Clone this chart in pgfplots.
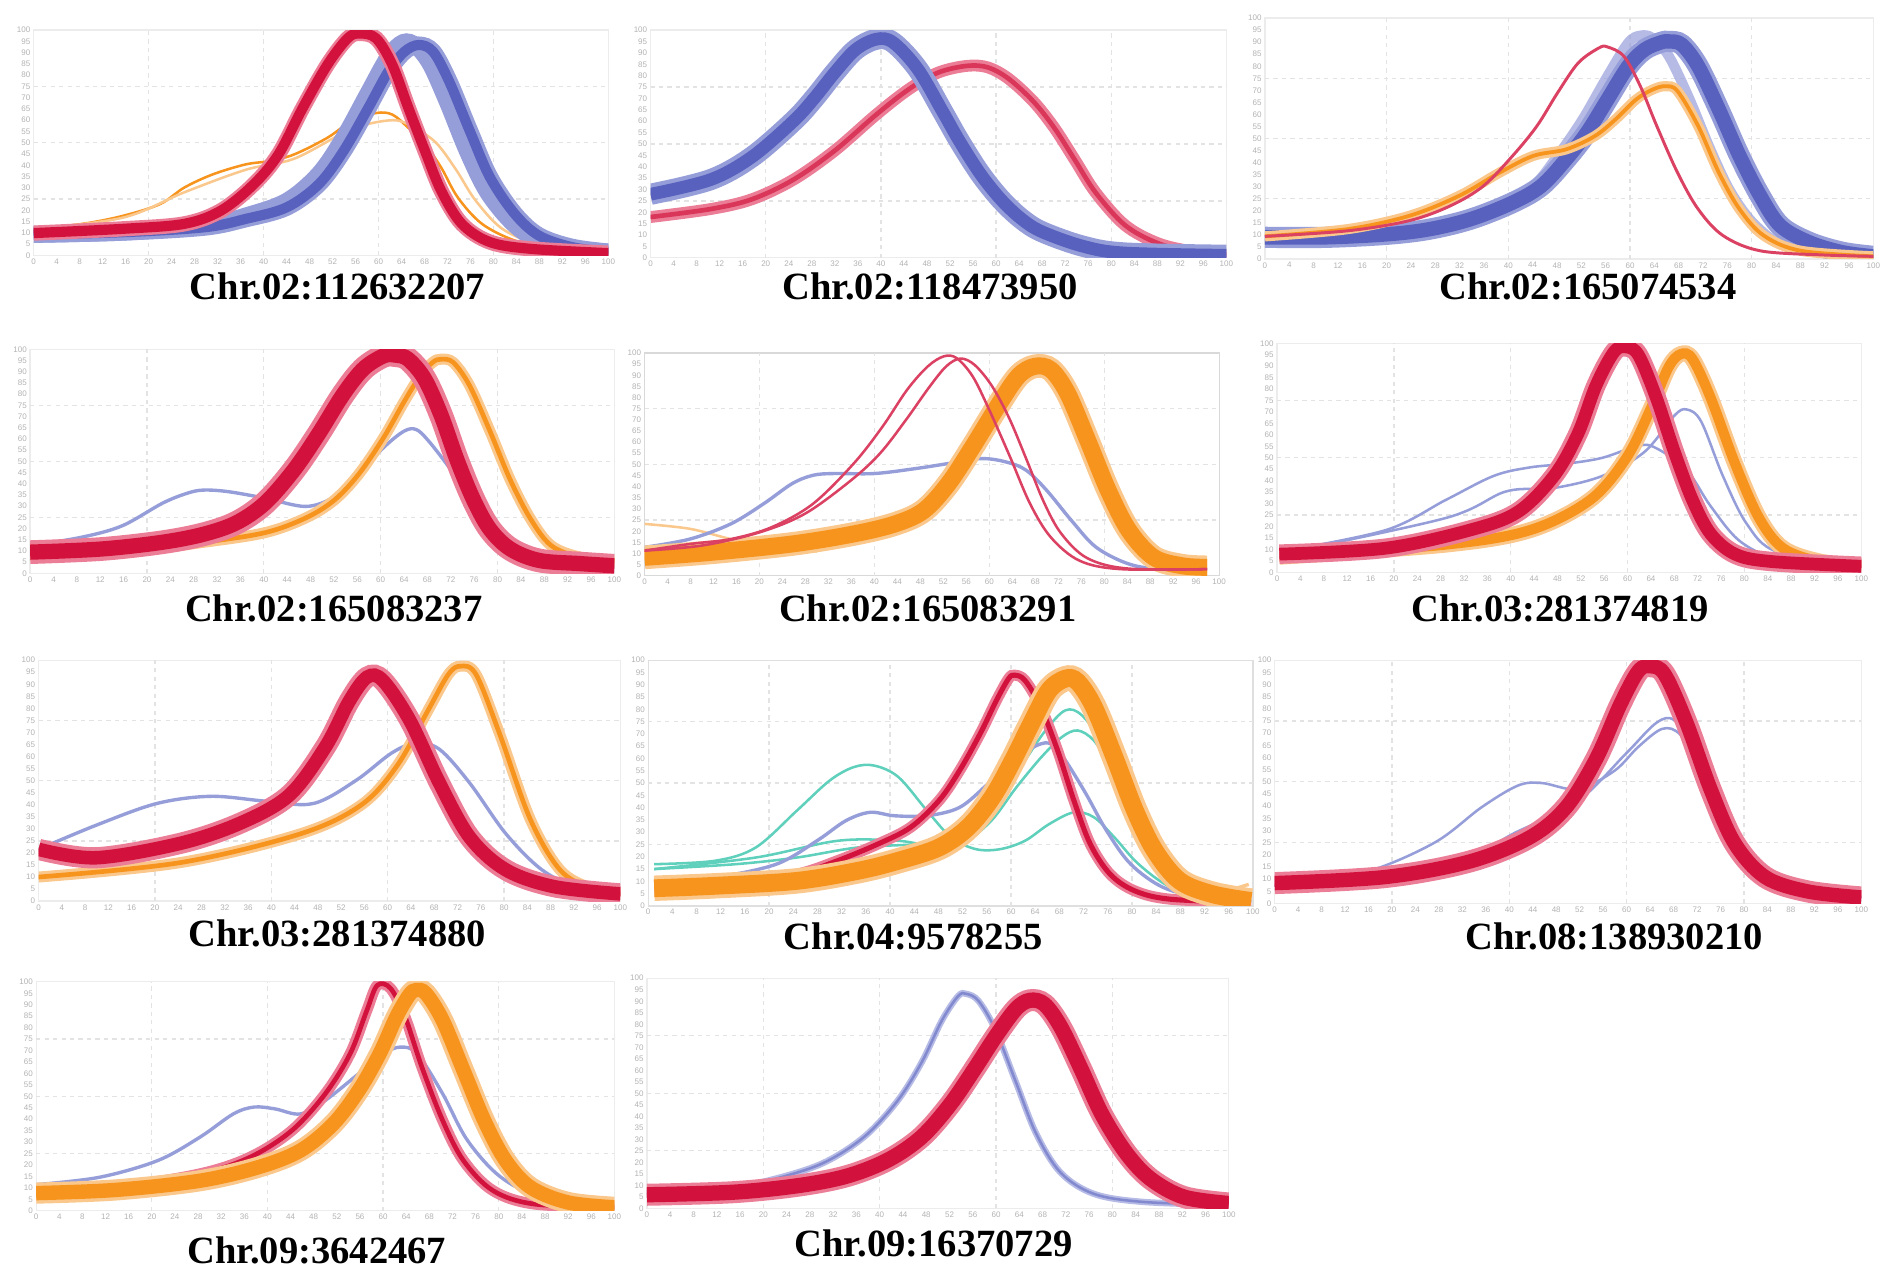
\documentclass[border=0pt]{standalone}
\usepackage{pgfplots}
\pgfplotsset{compat=1.18}
\usepackage{fontspec}
\setmainfont{Liberation Serif}
\newfontfamily\tickfont{Liberation Sans}
\definecolor{cb}{RGB}{88,98,190}
\definecolor{cbl}{RGB}{150,158,218}
\definecolor{cr}{RGB}{210,18,60}
\definecolor{crl}{RGB}{236,125,150}
\definecolor{co}{RGB}{247,148,30}
\definecolor{col}{RGB}{250,200,140}
\definecolor{ct}{RGB}{95,208,188}
\tikzset{ttl/.style={font=\fontsize{9.1}{11}\selectfont\bfseries, inner sep=0pt}}
\pgfplotsset{
 mc/.style={scale only axis, xmin=0, xmax=100, ymin=0, ymax=100,
  axis line style={draw=gray!15, line width=0.3pt},
  xtick distance=4, ytick distance=5, major tick length=0pt,
  /pgf/number format/assume math mode=true,
  tick label style={font=\tickfont\fontsize{1.9}{2.1}\selectfont, text=gray!60, inner sep=0.6pt},
  extra x ticks={20,40,60,80}, extra y ticks={25,50,75},
  extra x tick labels={}, extra y tick labels={},
  extra tick style={grid=major, grid style={gray!22, dash pattern=on 1pt off 1pt, line width=0.3pt}},
  every axis plot/.append style={smooth, tension=0.55, mark=none}},
 bB/.style={cb, line width=2.4pt, preaction={draw=cbl, line width=4pt}},
 bR/.style={cr, line width=2.4pt, preaction={draw=crl, line width=3.6pt}},
 bO/.style={co, line width=2.4pt, preaction={draw=col, line width=3.8pt}},
 lB/.style={cbl, line width=0.6pt},
 lR/.style={cr!80, line width=0.6pt},
 lO/.style={co, line width=0.6pt},
 lT/.style={ct, line width=0.6pt}
}
\begin{document}
\begin{tikzpicture}
\useasboundingbox (0,0) rectangle (15.68,10.60);
% ---------- Panel 1 ----------
\begin{axis}[mc, at={(0.28cm,8.48cm)}, anchor=south west, width=4.77cm, height=1.87cm]
\addplot[lO] coordinates {(0,11.8)(8.5,14.0)(15.6,17.6)(22.0,22.8)(26.2,30.1)(31.2,36.0)(36.9,40.4)(41.1,41.9)(45.4,44.9)(51.1,52.2)(55.3,59.6)(59.6,63.2)(62.4,62.5)(65.2,56.6)(68.1,49.3)(70.9,39.0)(73.8,25.7)(78.0,14.0)(83.7,6.6)(90.1,2.9)(100,1.0)};
\addplot[col, line width=0.6pt] coordinates {(0,11.5)(15.6,16.8)(26.2,28)(36.9,38)(45.4,43)(55.3,56)(62.4,60)(66,57)(70,50)(73.5,38)(77,24)(82,11)(90,3.5)(100,1.2)};
\addplot[bB, cbl] coordinates {(0,9.3)(15.6,10.3)(29.8,13.0)(36.9,17.5)(44,24)(49.6,36)(53.9,52)(58.2,72)(61.7,88)(64.3,94.5)(66.5,93)(69,85)(72,68)(75.5,46)(79,28)(83.5,14)(88,6.5)(94,2.8)(100,1.5)};
\addplot[bB] coordinates {(0,9.3)(15.6,10.3)(29.8,12.5)(36.9,16.2)(44.0,21.3)(49.6,31.6)(53.9,46.3)(58.2,65.4)(61.7,81.6)(64.5,90.4)(67.0,93.4)(69.5,90.4)(72.3,77.2)(75.9,55.1)(79.4,34.6)(83.7,18.4)(87.9,8.8)(93.6,3.7)(100,1.5)};
\addplot[bR] coordinates {(0,9.9)(15.6,11.8)(26.2,14.0)(32.6,19.9)(38.3,31.6)(42.6,44.9)(46.8,65.4)(51.1,84.6)(54.6,96.3)(56.7,98.5)(59.6,96.3)(62.4,84.6)(65.2,65.4)(68.1,46.3)(70.9,28.7)(74.5,14.0)(79.4,5.9)(86.5,2.9)(100,1.0)};
\end{axis}
% ---------- Panel 2 ----------
\begin{axis}[mc, at={(5.40cm,8.46cm)}, anchor=south west, width=4.78cm, height=1.89cm]
\addplot[cr!85, line width=1.1pt, preaction={draw=crl, line width=2.8pt}] coordinates {(0,17.9)(10.4,21.4)(17.6,25.7)(24.8,34.3)(32.0,47.1)(39.2,62.9)(45.0,74.3)(50.0,81.4)(55.0,84.3)(58.6,83.6)(62.2,78.6)(66.5,68.6)(70.1,57.1)(73.7,42.9)(77.3,28.6)(82.4,14.3)(88.1,6.4)(93.9,2.9)(100,1.4)};
\addplot[cb, line width=3pt, preaction={draw=cbl, line width=5pt}] coordinates {(0,27.9)(10.4,34.3)(17.6,44.3)(24.8,60.0)(28.4,70.0)(32.0,81.4)(35.6,91.4)(39.2,96.0)(42.1,94.6)(46.4,82.9)(50.7,64.3)(53.6,51.4)(57.2,37.1)(60.8,25.7)(64.4,17.1)(68.0,11.4)(75.2,5.0)(82.4,2.1)(100,1.1)};
\end{axis}
% ---------- Panel 3 ----------
\begin{axis}[mc, at={(10.50cm,8.45cm)}, anchor=south west, width=5.05cm, height=2.00cm]
\addplot[cbl, line width=2.4pt, opacity=0.7] coordinates {(0,9.4)(16.9,11)(30.5,15.2)(38.6,22.1)(44.1,30.3)(48.1,42.8)(52.2,57.9)(56.3,75.9)(59.7,89.7)(61.7,92.7)(63.7,91.7)(66.4,84.1)(69.8,66.2)(73.2,45.5)(76.6,27.6)(80.7,13.8)(86.1,5.5)(100,1.1)};
\addplot[cb, line width=3.4pt, preaction={draw=cbl, line width=5pt}] coordinates {(0,9.0)(10.2,9.0)(20.3,10.3)(27.1,12.4)(33.9,16.6)(40.7,23.4)(45.4,30.3)(49.5,41.4)(52.9,52.4)(56.3,66.2)(59.7,80)(62.4,86.9)(65.1,89.9)(66.4,90.3)(68.5,89.0)(71.2,80)(74.6,62.1)(78.0,42.8)(81.4,26.2)(84.7,13.8)(89.5,6.9)(94.9,2.8)(100,1.1)};
\addplot[co, line width=0.9pt, preaction={draw=col, line width=2.4pt}] coordinates {(0,9.4)(13.6,12.4)(23.7,17.9)(31.9,26.2)(38.6,35.9)(44.1,42.8)(49.5,45.5)(54.2,51.0)(57.6,57.9)(61.0,66.2)(63.7,70.3)(65.8,71.7)(67.8,69.7)(71.2,55.2)(74.6,35.9)(78.0,20.7)(82.0,9.7)(88.1,3.4)(100,1.1)};
\addplot[lR, line width=0.7pt] coordinates {(0,9.4)(13.6,11.7)(23.7,15.9)(30.5,22.1)(35.9,30.3)(40.7,42.8)(44.7,55.2)(48.1,69.0)(51.5,81.4)(54.9,87.6)(56.3,88.0)(59.0,84.1)(61.7,71.7)(64.4,55.2)(67.8,35.9)(71.2,20.7)(75.3,9.7)(81.4,3.4)(91.5,1.7)(100,1.1)};
\end{axis}
% ---------- Panel 4 ----------
\begin{axis}[mc, at={(0.25cm,5.84cm)}, anchor=south west, width=4.85cm, height=1.86cm]
\addplot[lB, line width=0.8pt] coordinates {(0,12.4)(8.7,16.1)(15.7,21.2)(22.7,31.4)(26.9,35.8)(29.7,37.2)(33.9,36.5)(40.2,33.6)(47.2,29.9)(52.1,34.3)(56.3,44.5)(60.5,56.2)(64.0,63.5)(66.1,64.2)(68.2,59.1)(71.7,47.4)(75.2,34.3)(78.7,22.6)(83.6,12.4)(89.2,7.3)(100,5.8)};
\addplot[co, line width=1.1pt, preaction={draw=col, line width=2.6pt}] coordinates {(0,8.0)(15.7,9.5)(29.7,13.9)(40.2,18.2)(47.2,24.8)(52.1,32.8)(56.3,44.5)(60.5,60.6)(64.0,76.6)(66.8,88.3)(68.9,94.2)(70.3,95.6)(72.4,94.2)(75.2,83.9)(78.7,63.5)(82.2,41.6)(85.7,24.1)(89.2,12.4)(94.1,7.3)(100,5.8)};
\addplot[cr, line width=3.6pt, preaction={draw=crl, line width=5.6pt}] coordinates {(0,9.5)(12.2,10.9)(22.6,13.9)(29.7,17.5)(35.3,22.6)(40.2,31.4)(45.1,46.0)(49.3,62.0)(53.5,79.6)(57.0,91.2)(60.5,97.1)(62.6,97.4)(64.7,95.6)(67.5,86.9)(70.3,70.8)(73.1,50.4)(75.9,32.8)(78.7,19.7)(82.2,10.9)(87.1,5.8)(94.1,4.4)(100,3.4)};
\end{axis}
% ---------- Panel 5 ----------
\begin{axis}[mc, at={(5.35cm,5.82cm)}, anchor=south west, width=4.77cm, height=1.85cm, axis line style={draw=gray!30}]
\addplot[col, line width=0.6pt] coordinates {(0,23.3)(7.9,21.1)(15,16.5)(22.1,12.8)(30,11)};
\addplot[lB, line width=0.8pt] coordinates {(0,12.8)(7.9,16.5)(15,23.3)(20.7,32.3)(25.7,41.4)(29.3,45.1)(32.9,45.9)(40,45.9)(47.1,48.1)(52.9,50.4)(58.6,52.6)(62.9,51.1)(66.4,47.4)(70,38.3)(74.3,24.8)(78.6,12.8)(84.3,5.3)(90,3.0)(97.9,3.0)};
\addplot[bO, line width=4pt, preaction={draw=col, line width=5.6pt}] coordinates {(0,8.3)(11.4,10.5)(25.7,14.3)(36.4,18.8)(43.6,23.3)(48.6,29.3)(52.9,41.4)(57.1,57.9)(61.4,75.9)(65.0,89.5)(67.9,94.0)(70.7,92.5)(73.6,82.0)(77.1,60.9)(80.7,38.3)(84.3,20.3)(88.6,8.3)(93.6,4.5)(97.9,3.8)};
\addplot[lR] coordinates {(0,11.3)(7.9,14.3)(15,16.5)(22.1,21.8)(29.3,32.3)(36.4,50.4)(41.4,66.9)(45.7,83.5)(49.3,94.0)(52.1,98.5)(54.3,97.7)(57.1,89.5)(60.0,74.4)(63.6,53.4)(67.1,32.3)(70.7,17.3)(75.7,6.8)(82.9,3.0)(97.9,3.0)};
\addplot[lR] coordinates {(0,11.3)(10,13.6)(20,19.5)(28,28)(36,43)(41,55)(45.5,70)(49.5,84.5)(52.5,94)(55,97.5)(57.5,94.5)(60.5,85)(63.5,70.5)(66.5,52)(69.5,33)(72.5,19)(77,8)(84,3.3)(97.9,3.0)};
\end{axis}
% ---------- Panel 6 ----------
\begin{axis}[mc, at={(10.60cm,5.85cm)}, anchor=south west, width=4.85cm, height=1.90cm]
\addplot[lB] coordinates {(0.4,8.9)(18.6,18.4)(28.9,31.6)(37.1,42.1)(43.3,45.8)(49.5,47.4)(55.7,50)(61.9,55.3)(64.9,54.2)(70.1,44.7)(74.2,28.9)(79.4,13.2)(86.6,5.3)(100,2.6)};
\addplot[lB] coordinates {(0.4,7.9)(28.9,23.7)(39.2,35.3)(47.4,36.8)(55.7,42.1)(62.9,52.6)(68,68.4)(70.1,71.1)(72.6,65.8)(76.3,42.1)(80.4,21.1)(85.6,8.9)(100,2.6)};
\addplot[bO] coordinates {(0.4,6.8)(28.9,12.1)(43.3,18.4)(53.6,31.6)(59.8,50)(63.9,71.1)(67,89.5)(69.1,95.3)(71.1,93.2)(74.2,76.3)(78.4,47.4)(82.5,23.7)(86.6,10.5)(92.8,4.7)(100,2.6)};
\addplot[bR, line width=3pt, preaction={draw=crl, line width=4.6pt}] coordinates {(0.4,7.9)(18.6,10.5)(33,18.4)(41.2,26.3)(47.4,42.1)(51.5,60.5)(54.6,81.6)(57.7,96.3)(59.8,98.4)(61.9,94.7)(64.9,76.3)(68,52.6)(71.1,31.6)(74.2,16.8)(78.4,7.9)(84.5,4.7)(100,2.6)};
\end{axis}
% ---------- Panel 7 ----------
\begin{axis}[mc, at={(0.32cm,3.12cm)}, anchor=south west, width=4.83cm, height=2.00cm]
\addplot[lB, line width=0.8pt] coordinates {(0,21.5)(9.9,31.5)(20.3,40.5)(29.6,43.5)(39,41.5)(47.2,40.5)(54.5,50)(60.7,61.5)(64.8,65.5)(68.9,63)(74.1,49)(80.3,28)(86.5,13)(92.8,5.5)(100,3)};
\addplot[co, line width=1.1pt, preaction={draw=col, line width=2.6pt}] coordinates {(0,10)(24.4,16)(45.1,28)(55.5,40)(61.7,56.5)(66.9,79)(70.4,94)(72.5,97.5)(75.2,94)(79.3,69)(84.5,34)(89.6,13)(94.8,5.5)(100,3)};
\addplot[bR, line width=3.2pt, preaction={draw=crl, line width=5pt}] coordinates {(0,21.5)(9.9,18)(24.4,24)(34.8,32.5)(43.1,44)(49.3,64)(53.4,83)(56.5,93)(59.2,91.5)(63.8,75)(68.9,49)(74.1,26.5)(80.3,13)(88.6,6)(100,3)};
\end{axis}
% ---------- Panel 8 ----------
\begin{axis}[mc, at={(5.38cm,3.08cm)}, anchor=south west, width=5.02cm, height=2.04cm, axis line style={draw=gray!25}]
\addplot[lT] coordinates {(1,17.0)(11.1,18.4)(17.8,23.8)(24.6,38.8)(30.0,51.0)(34.0,56.5)(37.4,57.1)(41.4,52.4)(46.1,38.8)(50.1,27.9)(54.2,23.1)(58.2,23.1)(62.3,26.5)(66.3,33.3)(70.4,38.1)(73.7,36.1)(77.1,27.9)(81.1,17.0)(86.5,7.5)(93.3,3.4)(99.7,2.0)};
\addplot[lT] coordinates {(1,15.0)(14.5,17.0)(24.6,19.7)(34.7,23.8)(44.8,25.2)(51.5,27.9)(56.9,38.8)(61.6,56.5)(65.7,71.4)(69.0,79.6)(71.7,77.6)(75.1,66.0)(78.5,46.9)(81.8,27.9)(85.9,12.9)(91.9,4.8)(99.7,2.0)};
\addplot[lT] coordinates {(1,15.0)(17.8,19.7)(31.3,26.5)(41.4,26.5)(50.2,23.8)(56.2,33.3)(60.9,48.3)(65.0,60.5)(68.4,68.7)(71.0,71.4)(73.7,67.3)(76.4,56.5)(79.8,38.8)(83.8,22.4)(88.6,10.2)(99.7,2.0)};
\addplot[lB, line width=0.8pt] coordinates {(1,9.5)(11.1,11.6)(21.2,17.0)(27.9,26.5)(32.7,34.7)(36.7,38.1)(40.7,36.7)(46.1,36.7)(51.5,40.1)(56.2,49.7)(60.9,60.5)(65.0,66.0)(67.0,65.3)(69.0,59.2)(72.4,45.6)(75.8,30.6)(79.8,17.0)(85.2,7.5)(91.9,3.4)(99.7,2.0)};
\addplot[col, line width=0.8pt] coordinates {(83.8,22.4)(87.9,10.2)(93.3,5.4)(96.6,6.8)(99.3,8.8)};
\addplot[cr, line width=1.2pt, preaction={draw=crl, line width=2.6pt}] coordinates {(1,7.2)(14.5,8.8)(24.6,12.9)(31.3,18.4)(38.0,25.2)(43.4,32.0)(48.1,42.9)(51.5,55.1)(54.9,70.1)(57.6,83.7)(59.6,92.5)(60.6,93.9)(62.3,91.8)(64.9,81.0)(67.7,63.3)(70.4,42.9)(73.1,25.2)(76.4,12.9)(80.5,6.1)(86.5,2.7)(99.7,1.4)};
\addplot[co, line width=4.2pt, preaction={draw=col, line width=6pt}] coordinates {(1,7.2)(11.1,8.2)(24.6,10.2)(34.7,14.3)(41.4,18.4)(48.1,23.8)(52.9,32.0)(56.9,44.2)(60.3,59.2)(63.6,75.5)(66.3,87.8)(69.0,92.5)(71.0,91.2)(73.7,81.0)(77.1,60.5)(80.5,38.8)(83.8,22.4)(87.9,10.2)(93.3,4.8)(99.7,2.0)};
\end{axis}
% ---------- Panel 9 ----------
\begin{axis}[mc, at={(10.58cm,3.10cm)}, anchor=south west, width=4.87cm, height=2.02cm]
\addplot[lB] coordinates {(0,7.4)(14.8,12.4)(27.1,24.8)(35.3,39.6)(41.5,48.5)(45.6,49.5)(51.7,47.0)(57.9,54.5)(62,64.4)(66.1,71.8)(69.2,69.3)(73.3,54.5)(78.4,29.7)(84.6,12.4)(100,2.5)};
\addplot[lB] coordinates {(0,7.4)(29.8,17.3)(41.5,29.7)(51.7,42.1)(60,61.9)(65.1,74.3)(68.2,75.2)(72.1,61.9)(76.4,37.1)(82.5,14.9)(100,2.5)};
\addplot[bR, line width=3.4pt, preaction={draw=crl, line width=5.2pt}] coordinates {(0,8.4)(18.9,10.9)(33.3,17.3)(43.5,27.2)(49.7,39.6)(54.8,59.4)(58.9,81.7)(62,95.5)(64.1,97.5)(66.5,94.1)(70.2,74.3)(74.3,47.0)(78.4,24.8)(83.6,10.9)(90.8,5.0)(100,2.5)};
\end{axis}
% ---------- Panel 10 ----------
\begin{axis}[mc, at={(0.30cm,0.55cm)}, anchor=south west, width=4.80cm, height=1.90cm]
\addplot[lB, line width=0.8pt] coordinates {(0,11.4)(10.9,14.6)(21.0,21.9)(28.3,32.1)(34.1,42.3)(37.7,45.3)(41.3,44.5)(45.7,42.3)(50.0,48.2)(55.8,59.9)(60.1,68.6)(63.0,71.5)(65.9,68.6)(70.3,51.1)(74.6,30.7)(80.4,14.6)(87.7,5.8)(100,1.5)};
\addplot[cr, line width=1.1pt, preaction={draw=crl, line width=2.6pt}] coordinates {(0,8.0)(13.8,10.2)(28.3,16.1)(37.0,23.4)(44.2,35.0)(50.0,51.1)(54.3,68.6)(57.2,87.6)(59.0,98.5)(61.3,97.1)(63.8,84.7)(66.7,62.8)(70.3,39.4)(73.9,21.9)(79.0,8.8)(86.2,2.9)(100,1.5)};
\addplot[bO, line width=3.4pt, preaction={draw=col, line width=5pt}] coordinates {(0,7.7)(13.8,9.1)(28.3,13.1)(38.4,19.0)(45.7,26.3)(51.4,38.0)(55.8,52.6)(59.4,68.6)(62.3,84.7)(64.5,94.2)(65.7,96.4)(67.4,94.9)(70.3,83.2)(73.9,61.3)(77.5,39.4)(81.2,21.9)(85.5,10.2)(92.0,3.6)(100,1.5)};
\end{axis}
% ---------- Panel 11 ----------
\begin{axis}[mc, at={(5.37cm,0.57cm)}, anchor=south west, width=4.83cm, height=1.91cm]
\addplot[cb!75, line width=0.6pt, preaction={draw=cbl!70, line width=1.5pt}] coordinates {(0,6.3)(12,7.7)(21.8,12.7)(30.3,19.7)(37.3,31.0)(43,46.5)(47.2,63.4)(50.7,81.7)(53.5,92.3)(54.9,93.2)(57,90.1)(59.9,77.5)(63.4,54.9)(66.9,32.4)(71.1,15.5)(76.8,6.3)(85.2,2.8)(100,1.4)};
\addplot[bR, line width=3.6pt, preaction={draw=crl, line width=5.2pt}] coordinates {(0,5.9)(14.8,7.0)(26.1,9.9)(34.5,14.1)(41.5,21.1)(47.2,31.0)(52.1,45.1)(56.3,60.6)(59.9,74.6)(63.4,86.6)(65.8,90.4)(68.3,88.7)(71.1,78.9)(74.6,60.6)(78.2,40.8)(82.4,23.9)(86.6,12.7)(92.3,4.9)(100,2.1)};
\end{axis}
% ---------- Titles ----------
\node[ttl] at (2.80,8.22) {Chr.02:112632207};
\node[ttl] at (7.72,8.22) {Chr.02:118473950};
\node[ttl] at (13.18,8.22) {Chr.02:165074534};
\node[ttl] at (2.77,5.55) {Chr.02:165083237};
\node[ttl] at (7.70,5.55) {Chr.02:165083291};
\node[ttl] at (12.95,5.55) {Chr.03:281374819};
\node[ttl] at (2.80,2.85) {Chr.03:281374880};
\node[ttl] at (7.58,2.83) {Chr.04:9578255};
\node[ttl] at (13.40,2.83) {Chr.08:138930210};
\node[ttl] at (2.63,0.22) {Chr.09:3642467};
\node[ttl] at (7.75,0.28) {Chr.09:16370729};
\end{tikzpicture}
\end{document}
